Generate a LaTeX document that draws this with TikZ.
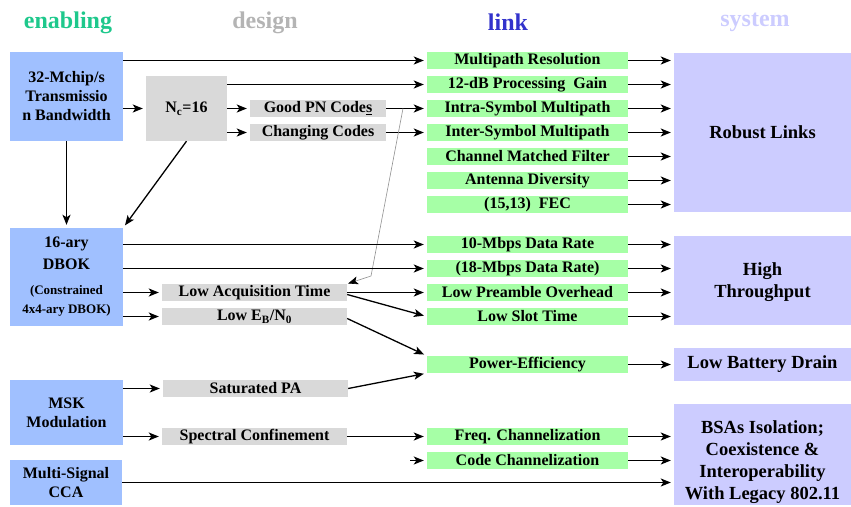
\documentclass[tikz,border=0pt]{standalone}
\usepackage{fontspec}
\setmainfont{Liberation Serif}
\usetikzlibrary{arrows.meta}

\definecolor{enabc}{RGB}{30,200,140}
\definecolor{desc}{RGB}{180,180,180}
\definecolor{linkc}{RGB}{51,51,204}
\definecolor{sysc}{RGB}{204,204,255}
\definecolor{bluebox}{RGB}{160,192,255}
\definecolor{graybox}{RGB}{217,217,217}
\definecolor{greenbox}{RGB}{166,255,166}

\newcommand{\smallline}[1]{\fontsize{13}{19}\selectfont #1}

\tikzset{
  base/.style={inner sep=0pt, align=center, font=\bfseries\fontsize{16}{19}\selectfont},
  enabler/.style={base, fill=bluebox, minimum width=113pt},
  designbox/.style={base, fill=graybox, minimum height=17pt},
  linkbox/.style={base, fill=greenbox, minimum width=201pt, minimum height=17pt},
  sysbox/.style={base, fill=sysc, minimum width=177pt, font=\bfseries\fontsize{18.5}{22}\selectfont},
  systext/.style={base, font=\bfseries\fontsize{18.5}{22}\selectfont},
  head/.style={font=\bfseries\fontsize{24}{28}\selectfont},
  arr/.style={-{Stealth[length=10pt,width=8pt,inset=2.5pt]}, line width=1.3pt, shorten >=3pt},
}

\begin{document}
\begin{tikzpicture}[x=1pt,y=-1pt]
\useasboundingbox (0,0) rectangle (851,506);
% column heads
\node[head, text=enabc] (hEnab) at (68,22.5) {enabling};
\node[head, text=desc] (hDes) at (265,22.5) {design};
\node[head, text=linkc] (hLink) at (508,22.5) {link};
\node[head, text=sysc] (hSys) at (755,22.5) {system};

% enabling
\node[enabler, minimum height=89pt] (bw) at (66.5,96.5) {32-Mchip/s\\Transmissio\\n Bandwidth};
\node[enabler, minimum height=98pt] (dbok) at (66.5,277) {16-ary\\[3pt]DBOK\\[6pt]\smallline{(Constrained}\\\smallline{4x4-ary DBOK)}};
\node[enabler, minimum height=65pt] (msk) at (66.5,412.5) {MSK\\Modulation};
\node[enabler, minimum height=45pt, minimum width=112pt] (cca) at (66,482.5) {Multi-Signal\\CCA};

% design
\node[designbox, minimum width=81pt, minimum height=65pt] (nc) at (186.5,108.5) {N\textsubscript{c}=16};
\node[designbox, minimum width=136pt] (pn) at (318,108.5) {Good PN Code\underline{s}};
\node[designbox, minimum width=136pt] (cc) at (318,132.5) {Changing Codes};
\node[designbox, minimum width=185pt] (lat) at (254.5,292.5) {Low Acquisition Time};
\node[designbox, minimum width=185pt] (leb) at (254.5,316.5) {Low E\textsubscript{B}/N\textsubscript{0}};
\node[designbox, minimum width=185pt] (spa) at (255.5,388.5) {Saturated PA};
\node[designbox, minimum width=185pt] (sc) at (254.5,436.5) {Spectral Confinement};

% link
\node[linkbox] (mpr) at (527.5,60.5) {Multipath Resolution};
\node[linkbox] (gain) at (527.5,84.5) {12-dB Processing\ \ Gain};
\node[linkbox] (intra) at (527.5,108.5) {Intra-Symbol Multipath};
\node[linkbox] (inter) at (527.5,132.5) {Inter-Symbol Multipath};
\node[linkbox] (cmf) at (527.5,156.5) {Channel Matched Filter};
\node[linkbox] (ant) at (527.5,180.5) {Antenna Diversity};
\node[linkbox] (fec) at (527.5,204.5) {(15,13)\ \ FEC};
\node[linkbox] (r10) at (527.5,244.5) {10-Mbps Data Rate};
\node[linkbox] (r18) at (527.5,268.5) {(18-Mbps Data Rate)};
\node[linkbox] (pre) at (527.5,292.5) {Low Preamble Overhead};
\node[linkbox] (slot) at (527.5,316.5) {Low Slot Time};
\node[linkbox] (pwr) at (527.5,364.5) {Power-Efficiency};
\node[linkbox] (freq) at (527.5,436.5) {Freq. Channelization};
\node[linkbox] (code) at (527.5,460.5) {Code Channelization};

% system
\node[sysbox, minimum height=159pt] (rob) at (762.5,132.5) {Robust Links};
\node[sysbox, minimum height=89pt] (tput) at (762.5,280.5) {};
\node[systext] (tputText) at ([yshift=-2pt]tput.center) {High\\Throughput};
\node[sysbox, minimum height=33pt] (batt) at (762.5,364.5) {Low Battery Drain};
\node[sysbox, minimum height=101pt] (bsa) at (762.5,454.5) {};
\node[systext] (bsaText) at ([yshift=-8pt]bsa.center) {BSAs Isolation;\\Coexistence \&\\Interoperability\\With Legacy 802.11};

\coordinate (tap) at (403,108.5);
\coordinate (bend) at (371,276);
\coordinate (cstub) at (410,460.5);

% enabling -> design / link
\draw[arr] (bw.east |- mpr) -- (mpr.west);
\draw[arr] (bw.east |- nc) -- (nc.west);
\draw[arr] (bw.south) -- (dbok.north);
\draw[arr] (nc.east |- gain) -- (gain.west);
\draw[arr] (nc.east |- pn) -- (pn.west);
\draw[arr] (nc.east |- cc) -- (cc.west);
\draw[arr] (nc.south) -- (dbok.north east);
\draw[arr] (pn.east) -- (intra.west);
\draw[arr] (cc.east) -- (inter.west);
\draw[desc!80!black, line width=0.6pt, -{Stealth[length=10pt,width=8pt,inset=2.5pt,black]}, shorten >=1pt] (tap) -- (bend) -- (lat.north east);
\draw[arr] (dbok.east |- r10) -- (r10.west);
\draw[arr] (dbok.east |- r18) -- (r18.west);
\draw[arr] (dbok.east |- lat) -- (lat.west);
\draw[arr] (dbok.east |- leb) -- (leb.west);
\draw[arr] (lat.east) -- (pre.west);
\draw[arr] ([yshift=-2pt]lat.east) -- (slot.west);
\draw[arr] ([yshift=-2pt]leb.east) -- (pwr.north west);
\draw[arr] (msk.east |- spa) -- (spa.west);
\draw[arr] (spa.east) -- (pwr.south west);
\draw[arr] (msk.east |- sc) -- (sc.west);
\draw[arr] (sc.east) -- (freq.west);
\draw[arr] (cstub) -- (code.west);
\draw[arr] (cca.east) -- (bsa.west |- cca);

% link -> system
\foreach \n in {mpr,gain,intra,inter,cmf,ant,fec}
  \draw[arr] (\n.east) -- (rob.west |- \n);
\foreach \n in {r10,r18,pre,slot}
  \draw[arr] (\n.east) -- (tput.west |- \n);
\draw[arr] (pwr.east) -- (batt.west);
\foreach \n in {freq,code}
  \draw[arr] (\n.east) -- (bsa.west |- \n);
\end{tikzpicture}
\end{document}
